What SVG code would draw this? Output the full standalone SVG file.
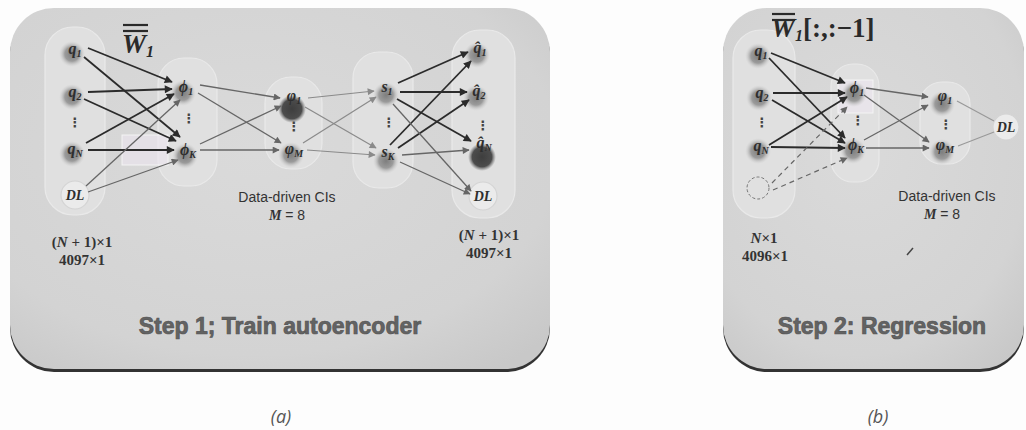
<svg xmlns="http://www.w3.org/2000/svg" width="1026" height="430" viewBox="0 0 1026 430">
<style>
.panel{fill:url(#pg);}
.shadow{fill:#333;}
.pill{fill:#e0e0e0;stroke:#e9e9e9;stroke-width:1.2;}
.m{font-family:"Liberation Serif",serif;font-style:italic;font-weight:bold;font-size:16px;fill:#2e2e2e;text-anchor:middle;}
.sub{font-size:10px;}
.dots{font-family:"DejaVu Sans",sans-serif;font-size:13px;font-weight:bold;fill:#444;text-anchor:middle;}
.dk{stroke:#2b2b2b;stroke-width:1.8;fill:none;marker-end:url(#ad);}
.gr{stroke:#666;stroke-width:1.3;fill:none;marker-end:url(#ag);}
.lt{stroke:#8a8a8a;stroke-width:1.2;fill:none;marker-end:url(#al);}
.ds{stroke:#666;stroke-width:1.2;stroke-dasharray:5 4;fill:none;marker-end:url(#ag);}
.pl{stroke:#999;stroke-width:1.2;fill:none;}
.lab{font-family:"Liberation Serif",serif;font-weight:bold;font-size:15px;fill:#333;text-anchor:middle;}
.cis{font-family:"Liberation Sans",Arial,sans-serif;font-size:14px;fill:#333;text-anchor:middle;}
.step{font-family:"Liberation Sans",Arial,sans-serif;font-weight:bold;font-size:23px;fill:#636363;stroke:#555;stroke-width:0.7;text-anchor:middle;}
.cap{font-family:"Open Sans","Noto Sans",sans-serif;font-style:italic;font-size:18px;fill:#555;text-anchor:middle;}
.big{font-family:"Liberation Serif",serif;font-style:italic;font-weight:bold;font-size:27px;fill:#2a2a2a;}
.bar{stroke:#2a2a2a;stroke-width:2.2;}
.blob{fill:url(#bg);}
.dblob{fill:url(#dbg);}
.dlc{fill:#ebebeb;stroke:#d4d4d4;stroke-width:1.2;}
.sel{fill:#ece6f0;fill-opacity:0.6;stroke:#f4f4f4;stroke-width:1;}
</style>
<defs>
<radialGradient id="pg" cx="45%" cy="40%" r="75%">
<stop offset="0" stop-color="#dadada"/>
<stop offset="0.75" stop-color="#d3d3d3"/>
<stop offset="1" stop-color="#c8c8c8"/>
</radialGradient>
<radialGradient id="bg" cx="50%" cy="50%" r="50%">
<stop offset="0" stop-color="#7e7e7e"/>
<stop offset="0.55" stop-color="#9b9b9b"/>
<stop offset="1" stop-color="#cfcfcf" stop-opacity="0"/>
</radialGradient>
<radialGradient id="dbg" cx="50%" cy="50%" r="50%">
<stop offset="0" stop-color="#3e3e3e"/>
<stop offset="0.7" stop-color="#4c4c4c"/>
<stop offset="1" stop-color="#777" stop-opacity="0"/>
</radialGradient>
<marker id="ad" viewBox="0 0 10 10" refX="9" refY="5" markerWidth="9" markerHeight="8" markerUnits="userSpaceOnUse" orient="auto"><path d="M0,0 L10,5 L0,10 Z" fill="#2b2b2b"/></marker>
<marker id="ag" viewBox="0 0 10 10" refX="9" refY="5" markerWidth="8" markerHeight="7" markerUnits="userSpaceOnUse" orient="auto"><path d="M0,0 L10,5 L0,10 Z" fill="#666"/></marker>
<marker id="al" viewBox="0 0 10 10" refX="9" refY="5" markerWidth="8" markerHeight="7" markerUnits="userSpaceOnUse" orient="auto"><path d="M0,0 L10,5 L0,10 Z" fill="#8a8a8a"/></marker>
</defs>
<rect width="1026" height="430" fill="#fdfdfd"/>

<!-- Panel (a) -->
<g id="panel-a">
<rect class="shadow" x="10" y="11" width="540" height="361" rx="44"/>
<rect class="panel" x="10" y="8" width="540" height="361" rx="44"/>
<rect class="pill" x="45" y="27" width="60" height="188" rx="28"/>
<rect class="pill" x="158" y="58" width="59" height="128" rx="26"/>
<rect class="pill" x="265" y="77" width="57" height="92" rx="26"/>
<rect class="pill" x="353" y="52" width="60" height="136" rx="26"/>
<rect class="pill" x="452" y="30" width="63" height="188" rx="28"/>
<rect class="sel" x="122" y="135" width="46" height="30"/>
</g>

<!-- Panel (b) -->
<g id="panel-b">
<rect class="shadow" x="723" y="11" width="301" height="361" rx="44"/>
<rect class="panel" x="723" y="8" width="301" height="361" rx="44"/>
<rect class="pill" x="733" y="30" width="62" height="188" rx="28"/>
<rect class="pill" x="831" y="64" width="48" height="118" rx="22"/>
<rect class="pill" x="920" y="82" width="50" height="82" rx="22"/>
<rect class="sel" x="838" y="80" width="35" height="33"/>
</g>

<!-- Nodes (a) -->
<g id="a-q1"><circle class="blob" cx="72" cy="54" r="13"/><text class="m" x="75" y="54">q<tspan class="sub" dy="3">1</tspan></text></g>
<g id="a-q2"><circle class="blob" cx="72" cy="97" r="13"/><text class="m" x="75" y="97">q<tspan class="sub" dy="3">2</tspan></text></g>
<text class="dots" x="75" y="127">⋮</text>
<g id="a-qN"><circle class="blob" cx="72" cy="154" r="13"/><text class="m" x="75" y="154">q<tspan class="sub" dy="3">N</tspan></text></g>
<g id="a-DL"><circle class="dlc" cx="75" cy="195" r="14"/><text class="m" x="75" y="200" style="font-size:14px">DL</text></g>

<g id="a-phi1"><circle class="blob" cx="183" cy="93" r="13"/><text class="m" x="186" y="92">ϕ<tspan class="sub" dy="3">1</tspan></text></g>
<text class="dots" x="189" y="123">⋮</text>
<g id="a-phiK"><circle class="blob" cx="185" cy="156" r="13"/><text class="m" x="188" y="155">ϕ<tspan class="sub" dy="3">K</tspan></text></g>

<g id="a-vphi1"><circle class="dblob" cx="292" cy="109" r="14"/><text class="m" x="294" y="101">φ<tspan class="sub" dy="3">1</tspan></text></g>
<text class="dots" x="294" y="131">⋮</text>
<g id="a-vphiM"><circle class="blob" cx="291" cy="155" r="13"/><text class="m" x="294" y="154">φ<tspan class="sub" dy="3">M</tspan></text></g>

<g id="a-s1"><circle class="blob" cx="386" cy="95" r="13"/><text class="m" x="387" y="92">s<tspan class="sub" dy="3">1</tspan></text></g>
<text class="dots" x="389" y="127">⋮</text>
<g id="a-sK"><circle class="blob" cx="386" cy="161" r="13"/><text class="m" x="388" y="157">s<tspan class="sub" dy="3">K</tspan></text></g>

<g id="a-qh1"><circle class="blob" cx="477" cy="55" r="13"/><text class="m" x="480" y="53">q̂<tspan class="sub" dy="3">1</tspan></text></g>
<g id="a-qh2"><circle class="blob" cx="476" cy="98" r="13"/><text class="m" x="479" y="96">q̂<tspan class="sub" dy="3">2</tspan></text></g>
<text class="dots" x="483" y="130">⋮</text>
<g id="a-qhN"><circle class="dblob" cx="482" cy="157" r="14"/><text class="m" x="484" y="148">q̂<tspan class="sub" dy="3">N</tspan></text></g>
<g id="a-DLout"><circle class="dlc" cx="483" cy="196" r="14"/><text class="m" x="483" y="201" style="font-size:14px">DL</text></g>

<!-- Nodes (b) -->
<g id="b-q1"><circle class="blob" cx="758" cy="56" r="13"/><text class="m" x="761" y="56">q<tspan class="sub" dy="3">1</tspan></text></g>
<g id="b-q2"><circle class="blob" cx="759" cy="98" r="13"/><text class="m" x="762" y="98">q<tspan class="sub" dy="3">2</tspan></text></g>
<text class="dots" x="762" y="127">⋮</text>
<g id="b-qN"><circle class="blob" cx="758" cy="151" r="13"/><text class="m" x="761" y="151">q<tspan class="sub" dy="3">N</tspan></text></g>
<g id="b-empty"><circle cx="758" cy="188" r="11" fill="none" stroke="#777" stroke-width="1" stroke-dasharray="3 2"/></g>

<g id="b-phi1"><circle class="blob" cx="854" cy="94" r="13"/><text class="m" x="857" y="93">ϕ<tspan class="sub" dy="3">1</tspan></text></g>
<text class="dots" x="858" y="125">⋮</text>
<g id="b-phiK"><circle class="blob" cx="853" cy="151" r="13"/><text class="m" x="856" y="150">ϕ<tspan class="sub" dy="3">K</tspan></text></g>

<g id="b-vphi1"><circle class="blob" cx="942" cy="104" r="13"/><text class="m" x="945" y="101">φ<tspan class="sub" dy="3">1</tspan></text></g>
<text class="dots" x="946" y="129">⋮</text>
<g id="b-vphiM"><circle class="blob" cx="942" cy="152" r="13"/><text class="m" x="945" y="150">φ<tspan class="sub" dy="3">M</tspan></text></g>
<g id="b-DL"><circle class="dlc" cx="1006" cy="127" r="13"/><text class="m" x="1006" y="132" style="font-size:14px">DL</text></g>

<!-- Connectors -->
<g id="connectors">
<path class="dk" d="M88,48 L172,82"/>
<path class="dk" d="M84,57 L180,137"/>
<path class="dk" d="M88,92 L172,89"/>
<path class="dk" d="M84,99 L176,141"/>
<path class="dk" d="M86,143 L174,94"/>
<path class="dk" d="M88,150 L174,150"/>
<path class="gr" d="M86,186 L180,100"/>
<path class="gr" d="M88,192 L178,160"/>

<path class="gr" d="M200,85 L280,98"/>
<path class="gr" d="M198,93 L281,143"/>
<path class="gr" d="M200,144 L281,106"/>
<path class="gr" d="M200,150 L279,150"/>

<path class="lt" d="M308,98 L374,91"/>
<path class="lt" d="M305,107 L376,148"/>
<path class="lt" d="M303,143 L376,97"/>
<path class="lt" d="M307,150 L375,155"/>

<path class="dk" d="M398,83 L468,52"/>
<path class="dk" d="M400,92 L467,92"/>
<path class="dk" d="M397,99 L471,141"/>
<path class="dk" d="M390,145 L471,61"/>
<path class="dk" d="M398,148 L469,100"/>
<path class="gr" d="M402,155 L469,150"/>
<path class="gr" d="M400,162 L470,194"/>
<path class="gr" d="M393,104 L471,191"/>

<path class="dk" d="M771,53 L845,83"/>
<path class="dk" d="M769,58 L845,138"/>
<path class="dk" d="M773,93 L845,93"/>
<path class="dk" d="M772,100 L845,143"/>
<path class="dk" d="M769,145 L847,97"/>
<path class="dk" d="M771,147 L845,148"/>
<path class="ds" d="M772,183 L847,107"/>
<path class="ds" d="M773,190 L847,158"/>

<path class="gr" d="M866,88 L928,97"/>
<path class="gr" d="M864,95 L929,142"/>
<path class="gr" d="M864,140 L928,105"/>
<path class="gr" d="M866,148 L929,148"/>

<path class="pl" d="M957,101 L994,121"/>
<path class="pl" d="M958,146 L994,132"/>
</g>

<!-- Labels (a) -->
<g id="a-labels">
<line class="bar" x1="123" y1="25" x2="148" y2="25"/>
<line class="bar" x1="123" y1="31" x2="148" y2="31"/>
<text class="big" x="122" y="53">W<tspan style="font-size:16px" dy="4">1</tspan></text>
<text class="cis" x="287" y="202">Data-driven CIs</text>
<text class="cis" x="287" y="220"><tspan style="font-family:'Liberation Serif',serif;font-style:italic;font-weight:bold">M</tspan> = 8</text>
<text class="lab" x="82" y="247">(<tspan font-style="italic">N</tspan> + 1)×1</text>
<text class="lab" x="82" y="265">4097×1</text>
<text class="lab" x="489" y="240">(<tspan font-style="italic">N</tspan> + 1)×1</text>
<text class="lab" x="489" y="258">4097×1</text>
<text class="step" x="280" y="334">Step 1; Train autoencoder</text>
<text class="cap" x="281" y="423">(a)</text>
</g>

<!-- Labels (b) -->
<g id="b-labels">
<line class="bar" x1="772" y1="14" x2="795" y2="14"/>
<line class="bar" x1="772" y1="20" x2="795" y2="20"/>
<text class="big" x="771" y="37">W<tspan style="font-size:16px" dy="4">1</tspan><tspan dy="-4" style="font-style:normal">[:,:−1]</tspan></text>
<text class="cis" x="947" y="201">Data-driven CIs</text>
<text class="cis" x="942" y="219"><tspan style="font-family:'Liberation Serif',serif;font-style:italic;font-weight:bold">M</tspan> = 8</text>
<text class="lab" x="764" y="243"><tspan font-style="italic">N</tspan>×1</text>
<text class="lab" x="765" y="261">4096×1</text>
<line x1="907" y1="255" x2="913" y2="248" stroke="#444" stroke-width="1.5"/>
<text class="step" x="882" y="334">Step 2: Regression</text>
<text class="cap" x="878" y="423">(b)</text>
</g>
</svg>
